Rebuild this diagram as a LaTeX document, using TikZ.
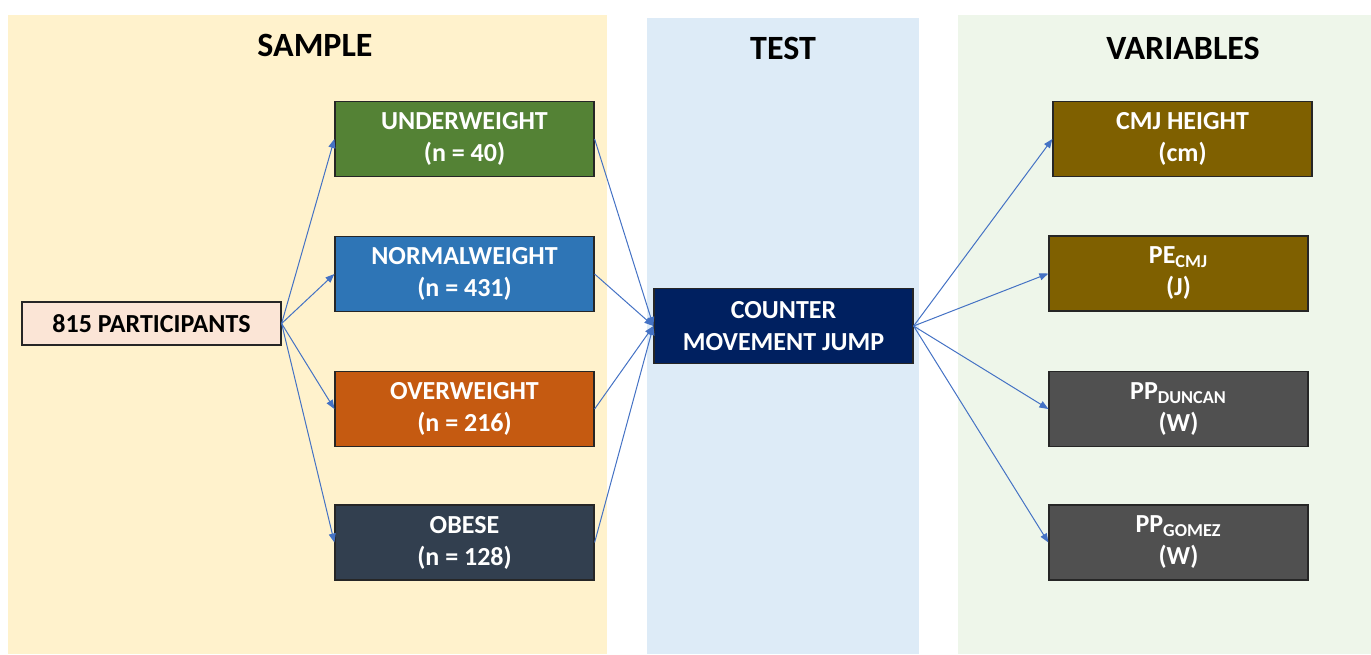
\documentclass[tikz,border=0pt]{standalone}
\usepackage{fontspec}
\setmainfont{Carlito}
\usetikzlibrary{arrows.meta}
\definecolor{samplebg}{HTML}{FFF2CC}
\definecolor{testbg}{HTML}{DDEBF7}
\definecolor{varbg}{HTML}{EEF6EA}
\definecolor{partfill}{HTML}{FBE5D6}
\definecolor{underfill}{HTML}{548235}
\definecolor{normalfill}{HTML}{2E75B6}
\definecolor{overfill}{HTML}{C55A11}
\definecolor{obesefill}{HTML}{323F4F}
\definecolor{cmjfill}{HTML}{002060}
\definecolor{goldfill}{HTML}{7F6000}
\definecolor{grayfill}{HTML}{505050}
\definecolor{arrowblue}{HTML}{4472C4}
\begin{document}
\begin{tikzpicture}[x=0.5pt,y=-0.5pt,
  box/.style={draw=black!85,line width=0.6pt,text=white,align=center,inner sep=0pt,
    minimum width=129.5pt,minimum height=37.5pt,font=\fontsize{13}{16}\selectfont\bfseries},
  title/.style={font=\fontsize{17}{20}\selectfont\bfseries},
  arr/.style={draw=arrowblue,line width=0.5pt,-{Triangle[length=4.5pt,width=3.5pt]}}]
  \useasboundingbox (0,0) rectangle (1371,654);
  % panels
  \fill[samplebg] (8,15) rectangle (607,654);
  \fill[testbg] (647,18) rectangle (919,654);
  \fill[varbg] (958,15) rectangle (1371,654);
  \node[title] (tsample) at (315,45) {SAMPLE};
  \node[title] (ttest) at (783,48) {TEST};
  \node[title] (tvar) at (1183,48) {VARIABLES};
  % sample
  \node[box,fill=partfill,text=black,minimum height=21.5pt] (part) at (151.5,323.5) {815 PARTICIPANTS};
  \node[box,fill=underfill] (under) at (464.5,139) {UNDERWEIGHT\\(n = 40)};
  \node[box,fill=normalfill] (normal) at (464.5,274) {NORMALWEIGHT\\(n = 431)};
  \node[box,fill=overfill] (over) at (464.5,409) {OVERWEIGHT\\(n = 216)};
  \node[box,fill=obesefill] (obese) at (464.5,542.5) {OBESE\\(n = 128)};
  % test
  \node[box,fill=cmjfill] (cmj) at (783.5,326) {COUNTER\\MOVEMENT JUMP};
  % variables
  \node[box,fill=goldfill] (height) at (1182.5,139) {CMJ HEIGHT\\(cm)};
  \node[box,fill=goldfill] (pe) at (1178.5,273.5) {PE\textsubscript{CMJ}\\(J)};
  \node[box,fill=grayfill] (duncan) at (1178.5,409) {PP\textsubscript{DUNCAN}\\(W)};
  \node[box,fill=grayfill] (gomez) at (1178.5,542.5) {PP\textsubscript{GOMEZ}\\(W)};
  \foreach \g in {under,normal,over,obese}{\draw[arr] (part.east) -- (\g.west); \draw[arr] (\g.east) -- (cmj.west);}
  \foreach \v in {height,pe,duncan,gomez}{\draw[arr] (cmj.east) -- (\v.west);}
\end{tikzpicture}
\end{document}
